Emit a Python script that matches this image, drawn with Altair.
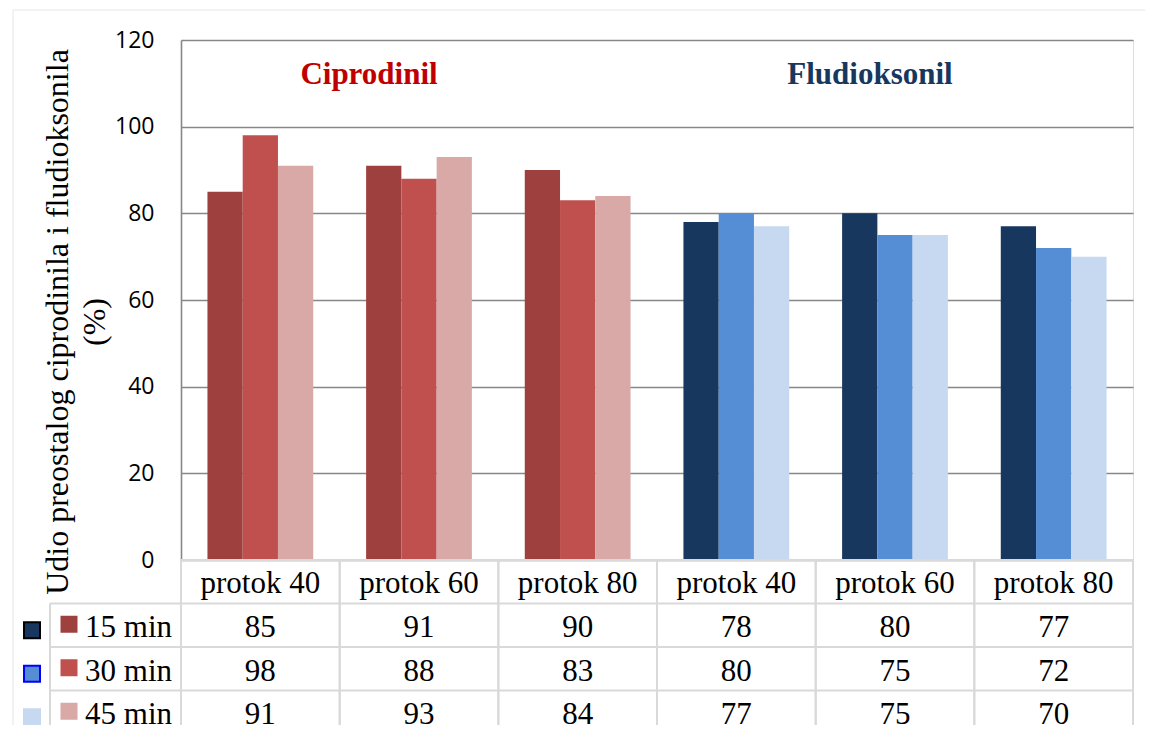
import altair as alt
import pandas as pd

# ---- data ----
groups = ["protok 40", "protok 60", "protok 80"]
compounds = ["Ciprodinil", "Fludioksonil"]
series = ["15 min", "30 min", "45 min"]
cipro_15 = [85, 91, 90]
cipro_30 = [98, 88, 83]
cipro_45 = [91, 93, 84]
flud_15 = [78, 80, 77]
flud_30 = [80, 75, 72]
flud_45 = [77, 75, 70]
y_ticks = [0, 20, 40, 60, 80, 100, 120]
y_title = ["Udio preostalog ciprodinila i fludioksonila", "(%)"]

values = {
    "Ciprodinil": [cipro_15, cipro_30, cipro_45],
    "Fludioksonil": [flud_15, flud_30, flud_45],
}
colors = {
    "Ciprodinil": ["#9E413E", "#C0504D", "#D9A9A8"],
    "Fludioksonil": ["#17375E", "#558ED5", "#C6D9F1"],
}
title_colors = {"Ciprodinil": "#C00000", "Fludioksonil": "#17375E"}

rows = []
col_ids = []
for c in compounds:
    for gi, g in enumerate(groups):
        cid = f"{c} {g}"
        col_ids.append(cid)
        for si, s in enumerate(series):
            rows.append({"col": cid, "compound": c, "group": g, "series": s,
                         "value": values[c][si][gi], "key": f"{c} {s}"})
df = pd.DataFrame(rows)

key_domain = [f"{c} {s}" for c in compounds for s in series]
key_range = [colors[c][i] for c in compounds for i in range(3)]
color_scale = alt.Scale(domain=key_domain, range=key_range)

row_domain = ["hdr"] + series
SERIF = "Liberation Serif"
FS = 31

xscale = alt.Scale(domain=col_ids, paddingInner=0, paddingOuter=0)
xenc = alt.X("col:N", scale=xscale, axis=None)
yscale = alt.Scale(domain=[0, 120], nice=False)

bars = alt.Chart(df).mark_bar(strokeWidth=0).encode(
    x=xenc,
    xOffset=alt.XOffset("series:N", scale=alt.Scale(domain=series, paddingInner=0, paddingOuter=0.75)),
    y=alt.Y("value:Q", scale=yscale,
            axis=alt.Axis(values=y_ticks, grid=True, gridColor="#878787", gridWidth=1.6,
                          domainColor="#878787", domainWidth=1.6, ticks=False,
                          labelFont="Open Sans", labelFontSize=23, labelColor="#000000",
                          labelPadding=27, title=None)),
    color=alt.Color("key:N", scale=color_scale, legend=None),
)

ytitle = alt.Chart(pd.DataFrame({"t": [0]})).mark_text(
    font=SERIF, fontSize=32, color="#000000", angle=270, align="center", baseline="middle",
    lineHeight=37
).encode(x=alt.value(-123), y=alt.value(282), text=alt.value(y_title))

titles_df = pd.DataFrame({"compound": compounds,
                          "col": [f"{c} protok 60" for c in compounds],
                          "value": [112, 112]})
title_c = alt.Chart(titles_df).transform_filter(alt.datum.compound == "Ciprodinil").mark_text(
    font=SERIF, fontSize=FS, fontWeight="bold", color=title_colors["Ciprodinil"], dx=-50, baseline="middle"
).encode(x=xenc, y=alt.Y("value:Q", scale=yscale), text="compound:N")
title_f = alt.Chart(titles_df).transform_filter(alt.datum.compound == "Fludioksonil").mark_text(
    font=SERIF, fontSize=FS, fontWeight="bold", color=title_colors["Fludioksonil"], dx=-25, baseline="middle"
).encode(x=xenc, y=alt.Y("value:Q", scale=yscale), text="compound:N")

top = alt.layer(bars, title_c, title_f)

# ---- data table below ----
rscale = alt.Scale(domain=row_domain, range=[520, 694], paddingInner=0, paddingOuter=0)
yrow = alt.Y("row:N", scale=rscale, axis=None)
yrow0 = alt.Y("row:N", scale=rscale, axis=None, bandPosition=0)

tdf = df.assign(row=df["series"])
hdr_df = pd.DataFrame({"col": col_ids, "label": [g for c in compounds for g in groups], "row": "hdr"})
row_df = pd.DataFrame({"row": series,
                       "ckey": [f"Ciprodinil {s}" for s in series],
                       "fkey": [f"Fludioksonil {s}" for s in series]})
LINE = "#D9D9D9"

cells = alt.Chart(tdf).mark_text(font=SERIF, fontSize=FS, color="#000000", baseline="middle", dy=3).encode(
    x=xenc, y=yrow, text="value:Q")
hdr = alt.Chart(hdr_df).mark_text(font=SERIF, fontSize=FS, color="#000000", baseline="middle", dy=2).encode(
    x=xenc, y=yrow, text="label:N")
row_lbl = alt.Chart(row_df).mark_text(font=SERIF, fontSize=FS, color="#000000", baseline="middle",
                                      align="right", dy=3).encode(
    x=alt.value(-9), y=yrow, text="row:N")
sq_red = alt.Chart(row_df).mark_square(size=289, opacity=1, yOffset=-1).encode(
    x=alt.value(-112), y=yrow, color=alt.Color("ckey:N", scale=color_scale, legend=None))
sq_blue = alt.Chart(row_df).mark_square(size=256, opacity=1, strokeWidth=2, yOffset=5).encode(
    x=alt.value(-149), y=yrow,
    color=alt.Color("fkey:N", scale=color_scale, legend=None),
    stroke=alt.Stroke("row:N", scale=alt.Scale(domain=series, range=["#000000", "#0000FF", "#C6D9F1"]),
                      legend=None))

vlines_r = alt.Chart(hdr_df).mark_rule(color=LINE, strokeWidth=2).encode(
    x=alt.X("col:N", scale=xscale, axis=None, bandPosition=1),
    y=alt.value(520), y2=alt.value(720))
vlines_l = alt.Chart(hdr_df).mark_rule(color=LINE, strokeWidth=2).encode(
    x=alt.X("col:N", scale=xscale, axis=None, bandPosition=0),
    y=alt.value(520), y2=alt.value(720))
hline_top = alt.Chart(hdr_df.head(1)).mark_rule(color=LINE, strokeWidth=2).encode(
    y=yrow0, x=alt.value(0), x2=alt.value(953))
hlines = alt.Chart(row_df).mark_rule(color=LINE, strokeWidth=2).encode(
    y=yrow0, x=alt.value(-131), x2=alt.value(953))
vline_left = alt.Chart(row_df.head(1)).mark_rule(color=LINE, strokeWidth=2).encode(
    y=yrow0, y2=alt.value(720), x=alt.value(-131))

# faint outer chart border
frame_top = alt.Chart(pd.DataFrame({"t": [0]})).mark_rule(color="#EFEEE8", strokeWidth=1.5).encode(
    x=alt.value(-168), x2=alt.value(970), y=alt.value(-30))
frame_left = alt.Chart(pd.DataFrame({"t": [0]})).mark_rule(color="#EFEEE8", strokeWidth=1.5).encode(
    x=alt.value(-168), y=alt.value(-30), y2=alt.value(720))

table = alt.layer(vlines_r, vlines_l, hline_top, hlines, vline_left, hdr, cells, row_lbl, sq_red, sq_blue)

chart = alt.layer(frame_top, frame_left, top, ytitle, table).resolve_scale(
    y="independent", color="shared").properties(
    width=952, height=520,
    autosize=alt.AutoSizeParams(type="none"),
    padding={"left": 173, "top": 32, "right": 12, "bottom": 165},
).configure_view(stroke=None).configure(background="#FFFFFF")

chart.save("out.html", embed_options={"renderer": "svg", "actions": False})
